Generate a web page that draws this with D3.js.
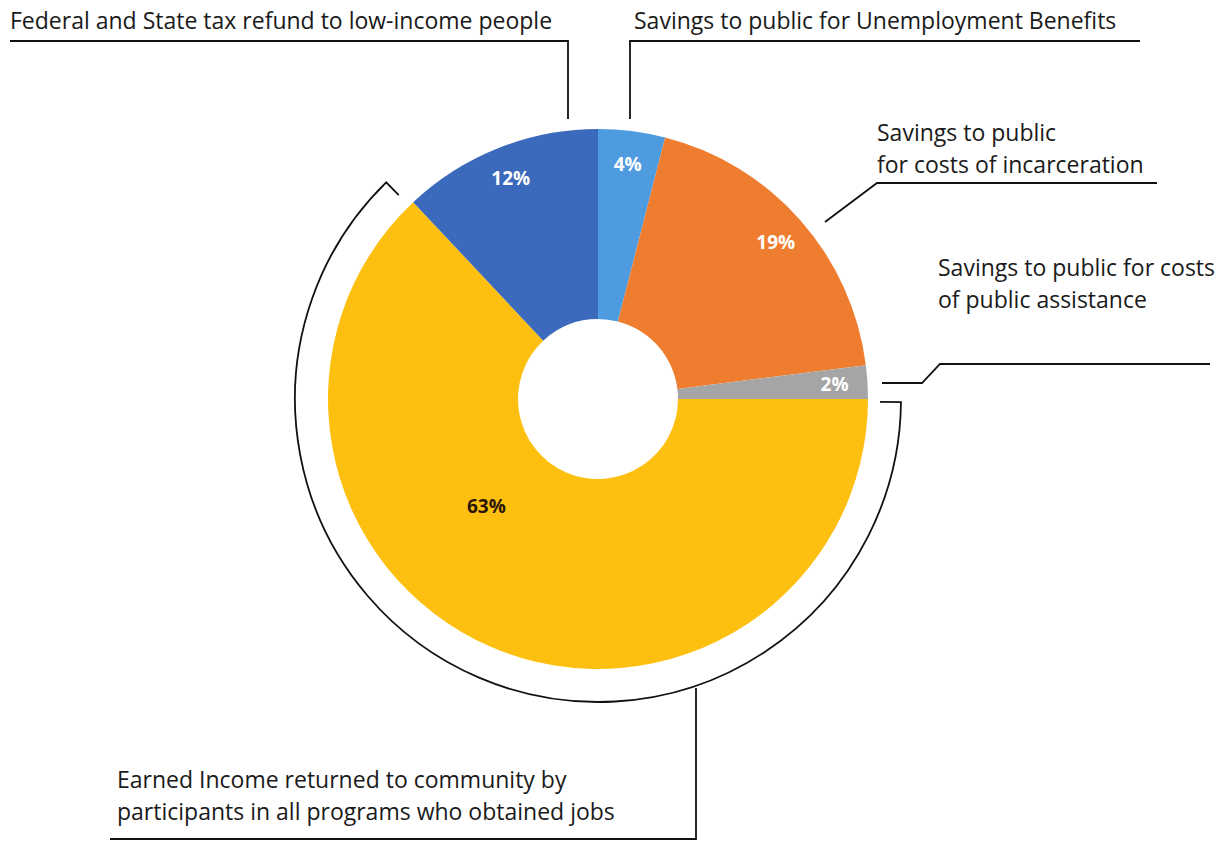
<!DOCTYPE html>
<html>
<head>
<meta charset="utf-8">
<script src="https://cdn.jsdelivr.net/npm/d3@7"></script>
<style>
  html, body { margin: 0; padding: 0; background: #fff; }
  svg { display: block; }
</style>
</head>
<body>
<div id="chart"></div>
<script>
// slices, clockwise from 12 o'clock
const categories = [
  'Savings to public for Unemployment Benefits',
  'Savings to public for costs of incarceration',
  'Savings to public for costs of public assistance',
  'Earned Income returned to community by participants in all programs who obtained jobs',
  'Federal and State tax refund to low-income people'
];
const values = [4, 19, 2, 63, 12];
const sliceColors = ['#4f9be0', '#ee7d30', '#a5a5a5', '#fec010', '#3b69bb'];
const labelColors = ['#fff', '#fff', '#fff', '#2b1608', '#fff'];

const width = 1228, height = 842;
const cx = 598, cy = 399;
const outerR = 270, innerR = 80;
const bracketR = 303;

const svg = d3.select('#chart').append('svg')
  .attr('width', width)
  .attr('height', height);

const pie = d3.pie().sort(null).value(d => d);
const arcs = pie(values);

const arc = d3.arc().innerRadius(innerR).outerRadius(outerR);
const g = svg.append('g').attr('transform', `translate(${cx},${cy})`);

g.selectAll('path.slice')
  .data(arcs)
  .join('path')
  .attr('class', 'slice')
  .attr('d', arc)
  .attr('fill', (d, i) => sliceColors[i]);

// percentage labels, the big slice is labelled off-centre like the original
const labelArc = d3.arc().innerRadius(237).outerRadius(237);
const bigLabelArc = d3.arc().innerRadius(155).outerRadius(155);
g.selectAll('text.pct')
  .data(arcs)
  .join('text')
  .attr('class', 'pct')
  .attr('transform', (d, i) => {
    if (i === 3) {
      const a = d.startAngle + (d.endAngle - d.startAngle) * 0.6;
      return `translate(${bigLabelArc.centroid({startAngle: a, endAngle: a})})`;
    }
    return `translate(${labelArc.centroid(d)})`;
  })
  .attr('text-anchor', 'middle')
  .attr('dy', '0.35em')
  .style('font-family', 'Open Sans, sans-serif')
  .style('font-size', '19px')
  .style('font-weight', '700')
  .style('fill', (d, i) => labelColors[i])
  .text(d => d.data + '%');

// bracket around the earned income slice
const big = arcs[3];
const a0 = big.startAngle + 0.01, a1 = big.endAngle - 0.02;
const pt = (r, a) => [r * Math.sin(a), -r * Math.cos(a)];
const bracketPath = d3.path();
bracketPath.moveTo(...pt(bracketR - 21, a0));
bracketPath.lineTo(...pt(bracketR, a0));
bracketPath.arc(0, 0, bracketR, a0 - Math.PI / 2, a1 - Math.PI / 2);
bracketPath.lineTo(...pt(bracketR - 18, a1));
g.append('path')
  .attr('d', bracketPath.toString())
  .attr('fill', 'none')
  .attr('stroke', '#111')
  .attr('stroke-width', 1.8);

// leader lines (page coordinates)
const leaders = [
  [[10, 41], [568, 41], [568, 119]],
  [[1140, 41], [630, 41], [630, 119]],
  [[1157, 183], [877, 183], [825, 222]],
  [[1210, 364], [940, 364], [922, 383], [882, 383]],
  [[110, 839], [696, 839], [696, 688]]
];
const line = d3.line();
svg.selectAll('path.leader')
  .data(leaders)
  .join('path')
  .attr('class', 'leader')
  .attr('d', line)
  .attr('fill', 'none')
  .attr('stroke', '#111')
  .attr('stroke-width', 1.8);

const labelLines = [
  { x: 10, y: 29, lines: ['Federal and State tax refund to low-income people'] },
  { x: 634, y: 29, lines: ['Savings to public for Unemployment Benefits'] },
  { x: 877, y: 141, lines: ['Savings to public', 'for costs of incarceration'] },
  { x: 938, y: 276, lines: ['Savings to public for costs', 'of public assistance'] },
  { x: 117, y: 788, lines: ['Earned Income returned to community by', 'participants in all programs who obtained jobs'] }
];

const texts = svg.selectAll('text.cat')
  .data(labelLines)
  .join('text')
  .attr('class', 'cat')
  .attr('x', d => d.x)
  .attr('y', d => d.y)
  .style('font-family', 'Open Sans, sans-serif')
  .style('font-size', '23px')
  .style('fill', '#1a1a1a');

texts.selectAll('tspan')
  .data(d => d.lines.map((t, i) => ({ t, i, x: d.x })))
  .join('tspan')
  .attr('x', d => d.x)
  .attr('dy', d => d.i === 0 ? 0 : 32)
  .text(d => d.t);
</script>
</body>
</html>
